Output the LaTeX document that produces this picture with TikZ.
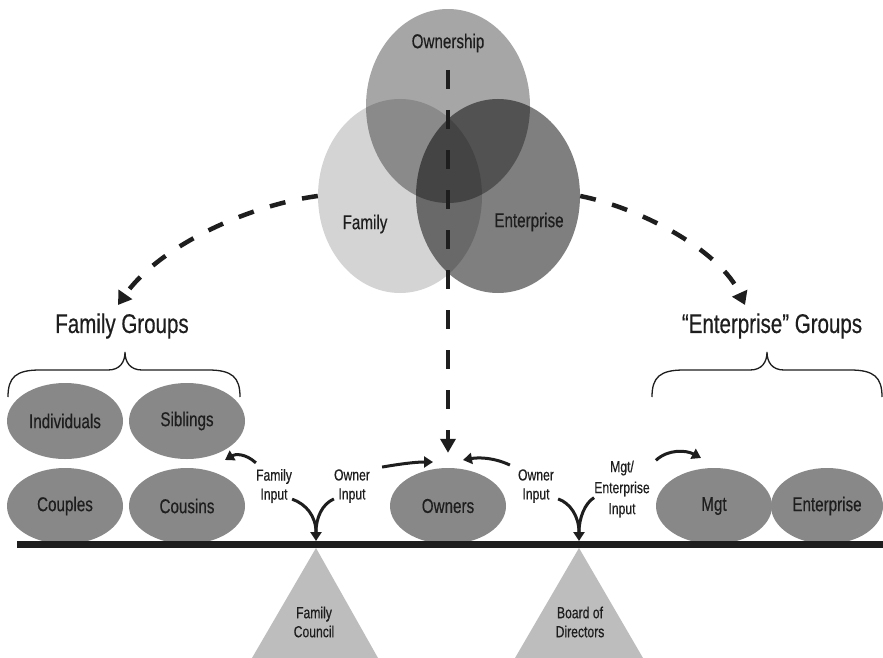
\documentclass[tikz,border=0pt]{standalone}
\usepackage{fontspec}
\setmainfont{Liberation Sans}[FakeStretch=0.76,FakeBold=0.4]
\usetikzlibrary{arrows.meta,shapes.geometric}

\definecolor{ink}{HTML}{1E1E1E}
\definecolor{grpgray}{HTML}{888888}
\definecolor{trigray}{HTML}{BDBDBD}

\begin{document}
\begin{tikzpicture}[x=1pt,y=-1pt,
  txt/.style={text=ink, font=\fontsize{20}{22}\selectfont, inner sep=0},
  small/.style={text=ink, font=\fontsize{16}{19}\selectfont, align=center, inner sep=0},
  big/.style={text=ink, font=\fontsize{27}{30}\selectfont, inner sep=0},
  venn/.style={ellipse, fill=black, minimum width=164pt, minimum height=194pt, inner sep=0},
  grp/.style={ellipse, fill=grpgray, minimum width=116pt, minimum height=76pt,
    inner sep=0, text=ink, font=\fontsize{20}{22}\selectfont},
  bigdash/.style={draw=ink, line width=4.5pt, dash pattern=on 16pt off 17pt,
    -{Triangle[length=13pt,width=16pt]}},
  vdash/.style={draw=ink, line width=4pt, dash pattern=on 19pt off 21pt,
    -{Triangle[length=14pt,width=15pt]}},
  flow/.style={draw=ink, line width=3pt, -{Triangle[length=9pt,width=11pt]}},
  arm/.style={draw=ink, line width=3pt},
  brace/.style={draw=ink, line width=1.3pt},
  fulcrum/.style={fill=trigray},
]
\useasboundingbox[fill=white] (0,0) rectangle (883,658);

% three overlapping circles (multiplied greys)
\node[venn, fill opacity=0.17] (fam) at (400,196) {};
\node[venn, fill opacity=0.35] (own) at (448,106) {};
\node[venn, fill opacity=0.50] (ent) at (498,196) {};
\node[txt] (owntxt) at (448,43) {Ownership};
\node[txt] (famtxt) at (365,224) {Family};
\node[txt] (enttxt) at (529,222) {Enterprise};

% group headings and braces
\node[big] (fgroups) at (122,326) {Family Groups};
\node[big] (egroups) at (772,326) {“Enterprise” Groups};
\draw[brace] (8,397) .. controls (8,377) and (16,370) .. (40,370) -- (108,370)
  .. controls (120,370) and (125,362) .. (125,352)
  .. controls (125,362) and (130,370) .. (142,370) -- (208,370)
  .. controls (232,370) and (240,377) .. (240,397);
\draw[brace] (652,397) .. controls (652,377) and (660,370) .. (684,370) -- (750,370)
  .. controls (762,370) and (767,362) .. (767,352)
  .. controls (767,362) and (772,370) .. (784,370) -- (850,370)
  .. controls (874,370) and (882,377) .. (882,397);

% group ellipses
\node[grp] (ind) at (65,421) {Individuals};
\node[grp] (sib) at (187,421) {Siblings};
\node[grp] (cou) at (65,506) {Couples};
\node[grp] (cus) at (187,506) {Cousins};
\node[grp] (owners) at (448,506) {Owners};
\node[grp] (mgt) at (714,506) {Mgt};
\node[grp, minimum width=112pt] (entg) at (827,506) {Enterprise};

% beam and fulcrums
\fill[ink] (17,541) rectangle (883,548);
\path[fulcrum] (316,548) -- (378,658) -- (252,658) -- cycle;
\path[fulcrum] (579,548) -- (643,658) -- (515,658) -- cycle;
\node[small] (council) at (314,622) {Family\\Council};
\node[small] (board) at (580,622) {Board of\\Directors};

% dashed arrows from the circles
\coordinate (ftip) at (118,305);
\coordinate (etip) at (745,305);
\coordinate (vtop) at (448,70);
\draw[bigdash] (fam.west) .. controls (250,205) and (160,245) .. (ftip);
\draw[bigdash] (ent.east) .. controls (640,208) and (720,250) .. (etip);
\draw[vdash, shorten >=15pt] (vtop) -- (owners.north);

% input labels
\node[small] (famin) at (274,486) {Family\\Input};
\node[small] (ownin) at (352,486) {Owner\\Input};
\node[small] (ownin2) at (536,486) {Owner\\Input};
\node[small, font=\fontsize{16}{21}\selectfont] (mgtin) at (622,489) {Mgt/\\Enterprise\\Input};

% input arrows
\coordinate (sibtip) at (225,460);
\coordinate (ownl) at (433,462);
\coordinate (ownr) at (463,460);
\coordinate (mgttip) at (701,458);
\coordinate (fc) at (316,541);
\coordinate (bd) at (579,541);
\draw[flow] (famin.north west) ++(0,-6) .. controls (245,453) and (235,454) .. (sibtip);
\draw[flow] (ownin.north east) ++(12,-2) .. controls (400,464) and (415,462) .. (ownl);
\draw[flow] (ownin2.north west) ++(-8,-4) .. controls (495,458) and (480,457) .. (ownr);
\draw[flow] (mgtin.north east) ++(6,0) .. controls (668,449) and (686,450) .. (mgttip);

% converging arrows onto the beam
\draw[arm] (ownin.south west) ++(0,-4) .. controls (322,504) and (316,518) .. (316,532);
\draw[flow] (famin.south east) ++(0,-4) .. controls (306,504) and (316,516) .. (fc);
\draw[arm] (mgtin.south west) ++(0,-20) .. controls (585,503) and (579,518) .. (579,532);
\draw[flow] (ownin2.south east) ++(4,-4) .. controls (570,503) and (579,516) .. (bd);
\end{tikzpicture}
\end{document}
